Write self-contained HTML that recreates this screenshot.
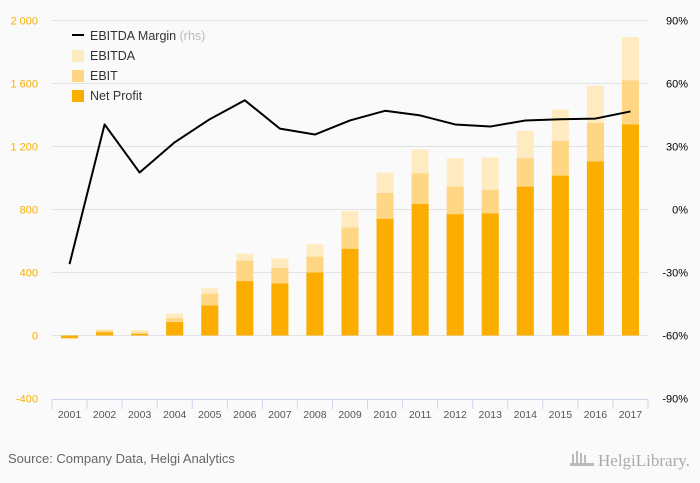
<!DOCTYPE html>
<html><head><meta charset="utf-8"><style>
body{margin:0;background:#fafafa;}
svg{display:block;font-family:"Liberation Sans",sans-serif;}
</style></head><body>
<svg id="c" width="700" height="483">
<rect width="700" height="483" fill="#fafafa"/>
<g id="grid"></g><g id="bars"></g><g id="line"></g><g id="axes"></g>
<g>
<line x1="72" y1="35" x2="84" y2="35" stroke="#000" stroke-width="2"/>
<text x="90" y="40" font-size="12.5" fill="#333">EBITDA Margin <tspan fill="#bbb">(rhs)</tspan></text>
<rect x="72" y="50" width="12" height="12" fill="#ffebc2"/>
<text x="90" y="60" font-size="12.5" fill="#333">EBITDA</text>
<rect x="72" y="70" width="12" height="12" fill="#fed684"/>
<text x="90" y="80" font-size="12.5" fill="#333">EBIT</text>
<rect x="72" y="90" width="12" height="12" fill="#fbae00"/>
<text x="90" y="100" font-size="12.5" fill="#333">Net Profit</text>
</g>
<text x="8" y="463" font-size="13" fill="#666">Source: Company Data, Helgi Analytics</text>
<text x="598" y="466" font-size="17" fill="#aaa" font-family="Liberation Serif,serif">HelgiLibrary.</text>
<g fill="#bbb"><rect x="572" y="454" width="2" height="12"/><rect x="576" y="451" width="2" height="15"/><rect x="580" y="453" width="2" height="13"/><rect x="584" y="455" width="2" height="11"/><rect x="570" y="463" width="24" height="3"/></g>
</svg>
<script>
const years=["2001","2002","2003","2004","2005","2006","2007","2008","2009","2010","2011","2012","2013","2014","2015","2016","2017"];
const netProfit=[-18,20,10,85,190,345,330,400,550,740,835,770,775,945,1015,1105,1340];
const ebit=[-10,30,20,110,265,475,430,500,685,905,1030,945,925,1125,1235,1350,1620];
const ebitda=[-5,40,35,140,300,520,490,580,790,1035,1180,1125,1130,1300,1435,1585,1895];
const margin=[-26,40.5,17.6,32,43,52,38.5,35.7,42.4,47,44.8,40.5,39.5,42.4,43,43.3,46.7];
const leftTicks=[-400,0,400,800,1200,1600,2000];
const leftLabels=["-400","0","400","800","1 200","1 600","2 000"];
const rightTicks=[-90,-60,-30,0,30,60,90];
const rightLabels=["-90%","-60%","-30%","0%","30%","60%","90%"];
const NS="http://www.w3.org/2000/svg";
const X0=52,X1=648,step=(X1-X0)/years.length;
const yL=v=>335.5-v*63/400;
const yR=v=>209.5-v*63/30;
const xc=i=>X0+step*(i+0.5);
function mk(t,a,p){const e=document.createElementNS(NS,t);for(const k in a)e.setAttribute(k,a[k]);document.getElementById(p).appendChild(e);return e;}
leftTicks.forEach((v,i)=>{
 if(v!==-400){const g=mk('line',{x1:X0,x2:X1,y1:yL(v),y2:yL(v),stroke:'#e2e2e2','stroke-width':1},'grid');
 
 }
 const t=mk('text',{x:38,y:yL(v)+4,'text-anchor':'end','font-size':11,fill:'#fbae00'},'axes');t.textContent=leftLabels[i];
 
 
});
rightTicks.forEach((v,i)=>{
 const t=mk('text',{x:688,y:yR(v)+4,'text-anchor':'end','font-size':11,fill:'#000'},'axes');t.textContent=rightLabels[i];
 
 
});
const ax=mk('line',{x1:X0,x2:X1,y1:399.5,y2:399.5,stroke:'#ccd6eb'},'axes');


for(let i=0;i<=years.length;i++){const tk=mk('line',{x1:X0+step*i,x2:X0+step*i,y1:399,y2:409,stroke:'#ccd6eb'},'axes');
 
 }
const bw=17;
years.forEach((yr,i)=>{
 const t=mk('text',{x:xc(i),y:418,'text-anchor':'middle','font-size':10.5,fill:'#555'},'axes');t.textContent=yr;
 
 
 [[ebitda,'#ffebc2','bar-ebitda'],[ebit,'#fed684','bar-ebit'],[netProfit,'#fbae00','bar-net-profit']].forEach(([arr,c,n])=>{
  const v=arr[i],y0=yL(0),y1=yL(v);
  const r=mk('rect',{x:xc(i)-bw/2,y:Math.min(y0,y1),width:bw,height:Math.abs(y1-y0),fill:c},'bars');
  
  
 });
});
const p=mk('polyline',{points:margin.map((v,i)=>xc(i)+','+yR(v)).join(' '),fill:'none',stroke:'#000','stroke-width':2,'stroke-linejoin':'round'},'line');


</script>
</body></html>
